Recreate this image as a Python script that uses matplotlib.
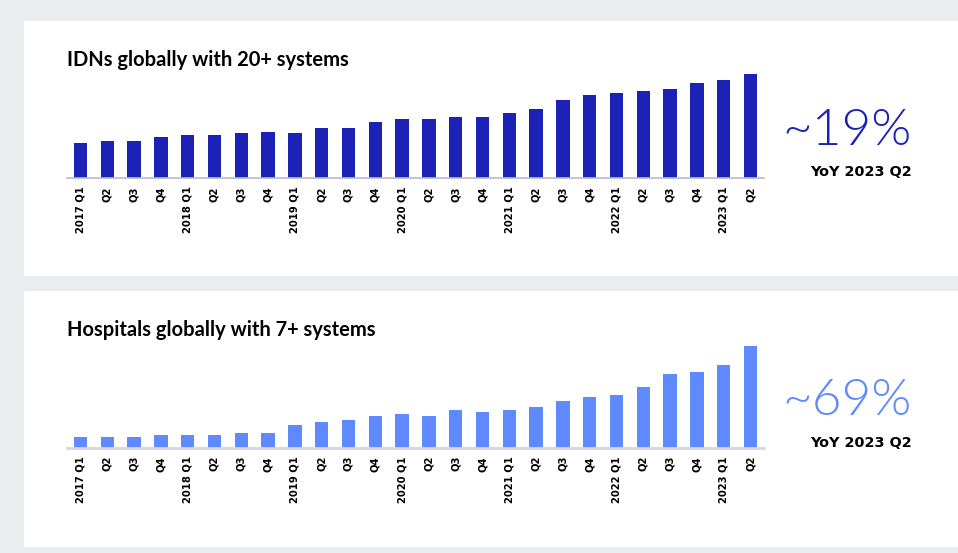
import matplotlib.pyplot as plt
from matplotlib.patches import Rectangle

quarters = ['2017 Q1', 'Q2', 'Q3', 'Q4', '2018 Q1', 'Q2', 'Q3', 'Q4',
            '2019 Q1', 'Q2', 'Q3', 'Q4', '2020 Q1', 'Q2', 'Q3', 'Q4',
            '2021 Q1', 'Q2', 'Q3', 'Q4', '2022 Q1', 'Q2', 'Q3', 'Q4',
            '2023 Q1', 'Q2']

# relative values (no axis scale shown)
idns = [35.3, 37, 37, 41, 42.7, 42.7, 44.7, 46.3, 44.7, 50, 50, 55.7, 59.3,
        59.3, 61.3, 61.3, 64.7, 68.7, 78, 83.3, 85.3, 87.3, 89, 94.7, 98, 104]
hospitals = [11, 11, 11, 13, 13, 13, 14.7, 14.7, 22.3, 26, 28, 31.7, 33.7,
             31.7, 37.3, 35.3, 37.7, 41, 46.7, 50.7, 52.7, 60.3, 73.3, 75.3,
             82.7, 101.7]

titles = ['IDNs globally with 20+ systems', 'Hospitals globally with 7+ systems']
growth = ['~19%', '~69%']
colors = ['#1c22b6', '#5f8aff']

W, H = 958, 553
fig = plt.figure(figsize=(W / 100, H / 100), dpi=100)
fig.patch.set_facecolor('#ebecf0')


def px(x, y):
    return x / W, 1 - y / H


# white cards
for top, bottom in [(21, 276), (291, 547)]:
    fig.patches.append(Rectangle(px(24, bottom), (W - 24) / W, (bottom - top) / H,
                                 transform=fig.transFigure, facecolor='white',
                                 edgecolor='none', zorder=-1))

panels = [
    dict(vals=idns, base=178, title_y=60, big_y=131, yoy_y=172,
         spine='#b9b9d0', spine_lw=1.2),
    dict(vals=hospitals, base=447.7, title_y=330, big_y=401, yoy_y=443,
         spine='#d6d6d9', spine_lw=2.0),
]

for i, p in enumerate(panels):
    left, bottom = px(67, p['base'])
    ax = fig.add_axes([left, bottom, 697 / W, 110 / H])
    ax.set_zorder(2)
    ax.bar(range(len(quarters)), p['vals'], width=0.5, color=colors[i])
    ax.set_xlim(-0.5, len(quarters) - 0.5)
    ax.set_ylim(0, 110)
    ax.patch.set_alpha(0)
    for s in ['top', 'right', 'left']:
        ax.spines[s].set_visible(False)
    ax.spines['bottom'].set_color(p['spine'])
    ax.spines['bottom'].set_linewidth(p['spine_lw'])
    ax.set_yticks([])
    ax.set_xticks(range(len(quarters)))
    ax.set_xticklabels(quarters, rotation=90, fontsize=7.2, fontweight='bold',
                       family='DejaVu Sans', va='top')
    ax.tick_params(axis='x', length=0, pad=6)

    fig.text(*px(67, p['title_y']), titles[i], fontsize=14.5, fontweight='bold',
             family='Lato', ha='left', va='center')
    fig.text(*px(847, p['big_y']), growth[i], fontsize=37, fontweight=300,
             family='Lato', color=colors[i], ha='center', va='center')
    fig.text(*px(860.5, p['yoy_y']), 'YoY 2023 Q2', fontsize=10.4, fontweight='bold',
             family='DejaVu Sans', ha='center', va='center')

fig.savefig('out.png', dpi=100)
